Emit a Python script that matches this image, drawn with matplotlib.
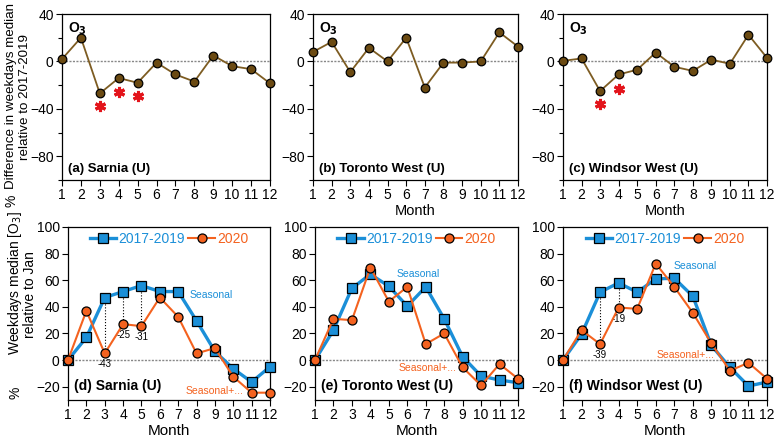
import matplotlib
matplotlib.use("Agg")
import matplotlib.pyplot as plt
import numpy as np
from matplotlib.ticker import MultipleLocator

plt.rcParams['font.family'] = ['Liberation Sans', 'DejaVu Sans']
plt.rcParams['font.size'] = 10

months = np.arange(1, 13)

# top row: % difference 2020 vs 2017-2019
diff_sarnia = [2, 20, -27, -14, -18, -1, -11, -17, 5, -4, -6.5, -18.5]
diff_toronto = [8, 16.5, -9, 11.5, 0, 20, -22, -1, -1, 0, 24.5, 12.5]
diff_windsor = [0.5, 2.5, -25, -11, -7, 7.5, -4.5, -8, 1.5, -2, 22.5, 3]
star_sarnia = {3: -38, 4: -26, 5: -29}
star_windsor = {3: -36, 4: -23}

# bottom row: % relative to Jan
base_sarnia = [0, 17, 47, 51.5, 56, 51.5, 51.5, 29.5, 6.5, -6.5, -16.5, -5]
y20_sarnia = [0, 37, 5, 27, 25.5, 47, 32.5, 5, 9, -12.5, -24.5, -24.5]
base_toronto = [0, 22.5, 54, 64.5, 55.5, 40.5, 55, 31, 2.5, -12, -15, -17]
y20_toronto = [0, 31, 30, 69.5, 44, 55, 12, 20, -5.5, -19, -3, -14]
base_windsor = [0, 19.5, 51, 58, 51, 61, 61.5, 48, 11, -5.5, -19.5, -16.5]
y20_windsor = [0, 22.5, 12, 39.5, 38.5, 72.5, 55, 35.5, 12.5, -8, -2, -14]
ann_sarnia = {3: '-43', 4: '-25', 5: '-31'}
ann_windsor = {3: '-39', 4: '-19'}

BROWN_F = '#6b4a12'
BROWN_L = '#7d5c22'
BLUE = '#1b8fd8'
ORANGE = '#f4621f'

W, H = 777, 442
fig = plt.figure(figsize=(W / 100, H / 100), dpi=100)


def add_ax(x0, x1, ytop, ybot):
    return fig.add_axes([x0 / W, 1 - ybot / H, (x1 - x0) / W, (ybot - ytop) / H])


def style(ax, ymin, ymax, major, minor):
    ax.set_xlim(1, 12)
    ax.set_ylim(ymin, ymax)
    ax.set_xticks(months)
    ax.yaxis.set_major_locator(MultipleLocator(major))
    ax.yaxis.set_minor_locator(MultipleLocator(minor))
    ax.tick_params(axis='both', which='major', direction='out', length=4, width=0.8, labelsize=10, pad=2)
    ax.tick_params(axis='y', which='minor', direction='out', length=3, width=0.8)
    for s in ax.spines.values():
        s.set_linewidth(0.9)
    ax.axhline(0, color='#888888', ls=(0, (1.5, 1)), lw=1.0, zorder=1)


top_pos = [(62, 270), (313, 518), (563, 767)]
bot_pos = [(68, 270), (315, 518), (563, 767)]
top_data = [diff_sarnia, diff_toronto, diff_windsor]
top_stars = [star_sarnia, None, star_windsor]
names = ['Sarnia (U)', 'Toronto West (U)', 'Windsor West (U)']

for i in range(3):
    ax = add_ax(top_pos[i][0], top_pos[i][1], 14, 180)
    style(ax, -100, 40, 40, 20)
    ax.plot(months, top_data[i], color=BROWN_L, lw=1.3, marker='o', ms=6.2,
            mfc=BROWN_F, mec='black', mew=0.9, zorder=3, clip_on=False)
    if top_stars[i]:
        for m, v in top_stars[i].items():
            ax.plot(m, v, marker=(6, 2, 0), color='#e3141b', ms=8, mew=2.2, ls='none')
    ax.text(0.03, 0.96, 'O$_\\mathbf{3}$', transform=ax.transAxes, ha='left', va='top',
            fontsize=10, fontweight='bold')
    ax.text(0.03, 0.03, '(%s) %s' % ('abc'[i], names[i]), transform=ax.transAxes,
            ha='left', va='bottom', fontsize=9.5, fontweight='bold')
    if i > 0:
        ax.set_xlabel('Month', fontsize=10.5, labelpad=1)

bases = [base_sarnia, base_toronto, base_windsor]
y20s = [y20_sarnia, y20_toronto, y20_windsor]
anns = [ann_sarnia, None, ann_windsor]
seas_pos = [((0.60, 0.59), (0.58, 0.035)), ((0.40, 0.71), (0.41, 0.17)), ((0.54, 0.76), (0.46, 0.245))]

for i in range(3):
    ax = add_ax(bot_pos[i][0], bot_pos[i][1], 227, 400)
    style(ax, -30, 100, 20, 20)
    ax.plot(months, bases[i], color=BLUE, lw=2.4, marker='s', ms=6.5,
            mfc=BLUE, mec='black', mew=0.9, zorder=3, clip_on=False, label='2017-2019')
    ax.plot(months, y20s[i], color=ORANGE, lw=1.5, marker='o', ms=6.5,
            mfc=ORANGE, mec='black', mew=0.9, zorder=4, clip_on=False, label='2020')
    if anns[i]:
        for m, t in anns[i].items():
            b = bases[i][m - 1]
            o = y20s[i][m - 1]
            ax.plot([m, m], [b, o], color='black', ls=':', lw=0.8, zorder=2)
            ax.text(m, o - 4.5, t, ha='center', va='top', fontsize=7)
    (sx, sy), (ox, oy) = seas_pos[i]
    ax.text(sx, sy, 'Seasonal', transform=ax.transAxes, color=BLUE, fontsize=7.5, zorder=1)
    ax.text(ox, oy, 'Seasonal+...', transform=ax.transAxes, color=ORANGE, fontsize=7.5, zorder=1)
    ax.legend(loc='upper center', ncol=2, frameon=False, fontsize=10, handlelength=1.9,
              columnspacing=0.25, handletextpad=0.15, borderaxespad=0.2,
              labelcolor='linecolor', bbox_to_anchor=(0.5, 1.02))
    ax.text(0.03, 0.04, '(%s) %s' % ('def'[i], names[i]), transform=ax.transAxes,
            ha='left', va='bottom', fontsize=10, fontweight='bold')
    ax.set_xlabel('Month', fontsize=11, labelpad=1)

# y labels
fig.text(11 / W, 1 - 96 / H, 'Difference in weekdays median', rotation=90,
         ha='center', va='center', fontsize=9.6)
fig.text(25 / W, 1 - 97 / H, 'relative to 2017-2019', rotation=90,
         ha='center', va='center', fontsize=9.6)
fig.text(11 / W, 1 - 201 / H, '%', rotation=90, ha='center', va='center', fontsize=10)
fig.text(15 / W, 1 - 283 / H, 'Weekdays median [O$_3$]', rotation=90,
         ha='center', va='center', fontsize=10)
fig.text(30 / W, 1 - 295 / H, 'relative to Jan', rotation=90,
         ha='center', va='center', fontsize=10)
fig.text(15 / W, 1 - 393 / H, '%', rotation=90, ha='center', va='center', fontsize=10)

fig.savefig('out.png', dpi=100)
